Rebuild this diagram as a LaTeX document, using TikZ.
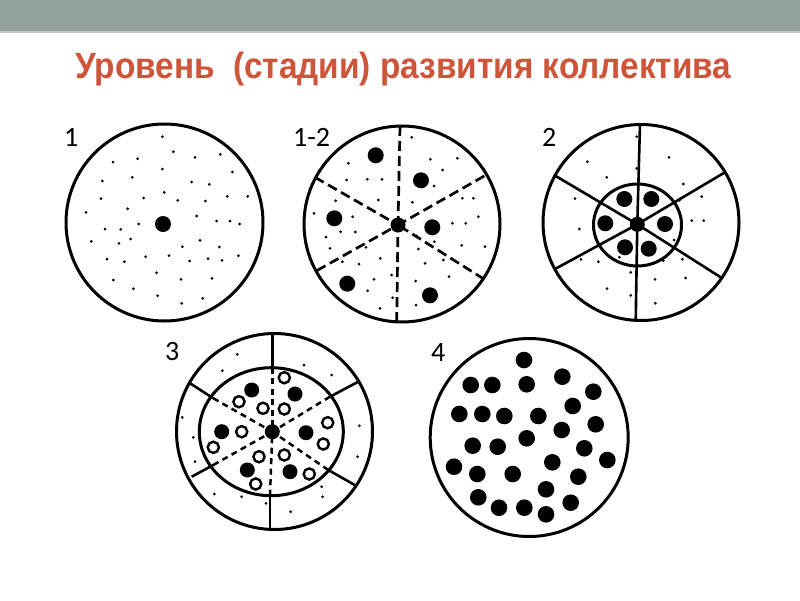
\documentclass[tikz,border=0pt]{standalone}
\usepackage{fontspec}
\setmainfont{Carlito}
\newfontfamily\titlefont{Liberation Sans}
\definecolor{barcol}{RGB}{147,162,152}
\definecolor{titlecol}{RGB}{206,84,58}
\begin{document}
\begin{tikzpicture}[x=1pt,y=-1pt,
  ring/.style={line width=3pt},
  spoke/.style={line width=2.6pt},
  dspoke/.style={line width=2.7pt, dash pattern=on 10pt off 5pt},
  dspokesm/.style={line width=2.5pt, dash pattern=on 6pt off 4.5pt},
  lab/.style={font=\fontsize{28}{28}\selectfont, anchor=base west, inner sep=0pt}]
\useasboundingbox (0,0) rectangle (800,600);
\fill[white] (0,0) rectangle (800,600);
\fill[barcol] (0,0) rectangle (800,31);
\fill[barcol!60!white] (0,31) rectangle (800,32.5);
\node[anchor=base west, inner sep=0pt, text=titlecol] (title) at (75,78)
  {\resizebox{656pt}{\height}{\titlefont\bfseries\fontsize{36.5}{36.5}\selectfont Уровень\ \ (стадии) развития коллектива}};

% ---------- circle 1 ----------
\node[lab] (l1) at (64,146) {1};
\draw[ring] (164.5,222.5) circle (98.5);
\fill (163,224) circle (8);
\foreach \x/\y in {162.3/136.7,173.3/151.7,137.7/158.7,113/162,195/157.3,220.3/154.3,162.3/169,232.3/172,102.3/181,132.3/177.3,191.7/182,209.3/184.3,164.3/192.3,143.7/198,101/198.7,177.7/200.3,205.3/201,227.3/196.3,247.7/196.3,86/212.3,127.7/208.7,196.7/216,216.7/221,230/221,239.7/224,138.7/224,105/229,120.7/229.3,91.3/241.3,119/243.3,130.7/239,200/240.3,219.3/247,182.3/246.7,107/259,124.3/261.7,145.7/256.7,169/255.7,189.7/261,208/258.7,222/260.3,238.3/255.7,156.7/272.7,113.3/280,181/279.3,212/278.3,133.3/288.7,157.7/295.7,202.7/298.3,181.7/303.3}
  \fill (\x,\y) circle (1.5);

% ---------- circle 1-2 ----------
\node[lab] (l12) at (293,146) {1-2};
\draw[ring] (402,224) circle (98);
\coordinate (c12) at (398,225);
\foreach \x/\y in {400/126,396.7/322,315/177.3,484.3/176,316.7/270.7,484.3/279.3}
  \draw[dspoke] (\x,\y) -- (c12);
\fill (c12) circle (7.5);
\foreach \x/\y in {375.7/155.3,421/180.3,334.3/218.3,432.3/227.3,347.3/283.7,430/295.3}
  \fill (\x,\y) circle (8);
\foreach \x/\y in {411.7/137.3,348.3/163.3,430.3/159.3,457.3/158.3,442.7/170,346.7/180,367.3/179.3,382/179.3,434/186,378.3/200,335.7/200.7,412.3/202.3,462.3/198.3,473.3/198.3,314/213.3,352.7/216.7,478.3/216.7,452.3/223.3,465.7/223.3,340.7/231.7,355.3/232,326/237,416.7/236,434.3/241.7,461.7/245.3,485/246.7,330/248.3,366/247.3,418.3/249,380.3/258.3,425/263.3,342.3/261.7,359/264,443.3/260,391.7/275,374/279.3,415.7/281,449/276.7,367.7/290.7,392.7/297.7,380/308.3,416/305}
  \fill (\x,\y) circle (1.5);

% ---------- circle 2 ----------
\node[lab] (l2) at (542,146) {2};
\draw[ring] (641,222.5) circle (98);
\coordinate (c2) at (637.3,224.3);
\foreach \x/\y in {640/123,635.7/321.7,554/175,724.3/172.7,555/269,722.3/278.3}
  \draw[spoke] (\x,\y) -- (c2);
\draw[ring] (637.5,225) ellipse (44 and 41);
\fill (c2) circle (7.5);
\foreach \x/\y in {624.3/199,651.3/199,605.3/223.3,665/224,625/247.3,648.7/248.7}
  \fill (\x,\y) circle (8);
\foreach \x/\y in {636.7/136.7,587.3/161.7,669/157.3,636.7/168.3,606.7/177.3,683.3/184,575/198.7,701.7/196.7,679.3/200.3,579.3/229,691.7/220.7,703.7/220.7,674/240,581/259.3,598.3/261.7,619.3/257.3,663.3/260.7,682.3/259.3,630.7/272.3,655/279.3,685.7/278,607/288.7,630.7/295.3,655.3/303.3}
  \fill (\x,\y) circle (1.5);

% ---------- circle 3 ----------
\node[lab] (l3) at (165,360) {3};
\draw[ring] (274.5,431.5) circle (98);
\draw[ring] (271.3,431.7) ellipse (72 and 64);
\coordinate (c3) at (272.3,431.7);
\foreach \xa/\ya/\xb/\yb in {272.3/333/272.3/367.7,190/383.3/213.3/398.3,358.3/381.7/330/396.7,191.7/476.7/213.3/465,356/485.7/328.3/470,270/495.7/270/530}
  \draw[spoke] (\xa,\ya) -- (\xb,\yb);
\foreach \x/\y in {272.3/367.7,213.3/398.3,330/396.7,213.3/465,328.3/470,270/495.7}
  \draw[dspokesm] (\x,\y) -- (c3);
\fill (c3) circle (7.5);
\foreach \x/\y in {251.7/390,295/394,221.7/431.7,306/432.7,247.3/470,290/471.7}
  \fill (\x,\y) circle (7.5);
\foreach \x/\y in {284.3/377.7,239/401.7,263/408.3,284.3/409,327.7/422.7,241.7/431.7,213.3/447.3,323.3/444,259/456.7,284.3/455,309.3/474,255.7/484}
  \draw[line width=2.4pt, fill=white] (\x,\y) circle (5.6);
\foreach \x/\y in {237.3/354.3,222.3/370.7,304/365,331.7/375,182.3/417.3,193.3/437.3,359.3/425.7,195/461.7,357.7/456.7,214.3/494,241.7/496.7,266/503.3,321.7/486.7,322.7/496.7,290.7/511.7}
  \fill (\x,\y) circle (1.5);

% ---------- circle 4 ----------
\node[lab] (l4) at (431,361) {4};
\draw[ring] (529.2,437.5) circle (99);
\foreach \x/\y in {524/360,562.3/376.7,470.7/385,492.3/385,526.7/384.3,593.3/391.7,572.7/406,459.3/414,482.3/414,504.3/416,538.3/416,595.7/424.3,561.7/430,526.7/438.3,472.7/445.7,497.7/446.7,584.3/448.3,607.3/460,552.3/462.3,454/466.7,477.3/474,512.7/474,578.3/476.7,546/489.3,478.3/497.3,570.7/502.7,499/507.7,524.3/507.7,546/514.3}
  \fill (\x,\y) circle (8.3);
\end{tikzpicture}
\end{document}
